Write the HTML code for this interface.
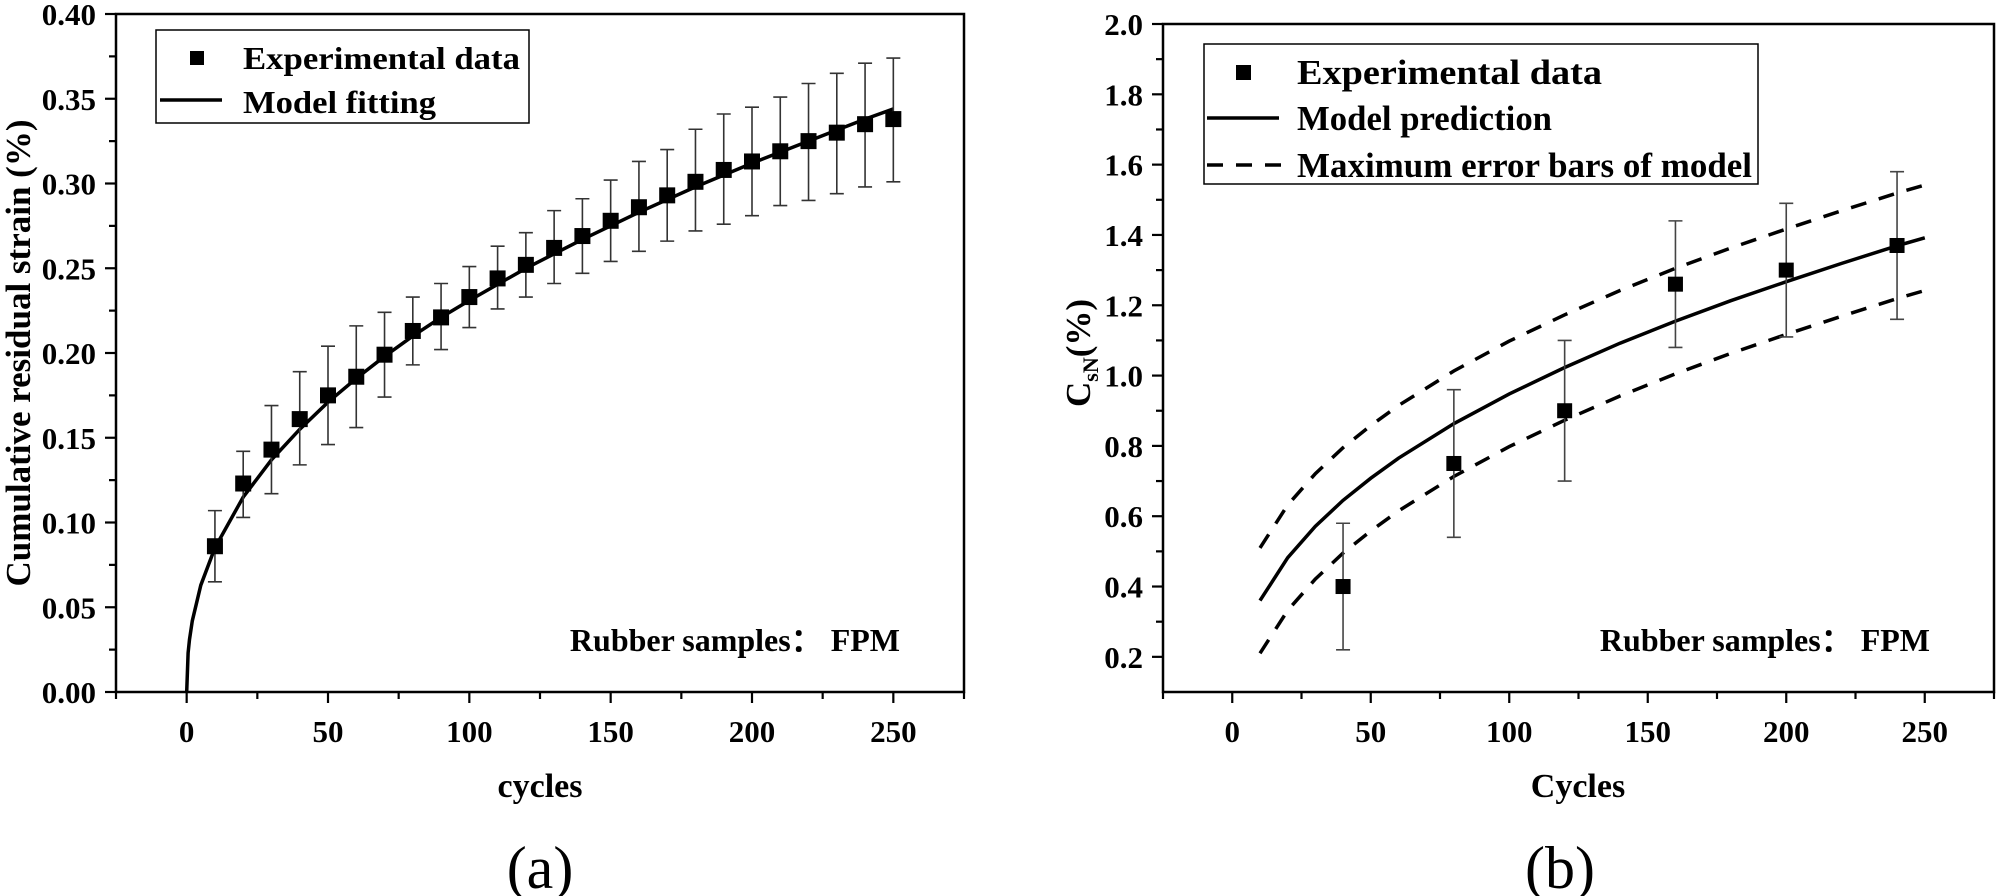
<!DOCTYPE html>
<html><head><meta charset="utf-8"><style>
html,body{margin:0;padding:0;background:#fff;}
svg{display:block;}
text{font-family:"Liberation Serif",serif;fill:#000;}
</style></head><body>
<svg id="fig" width="2000" height="896" viewBox="0 0 2000 896" xmlns="http://www.w3.org/2000/svg"></svg>
<script>
// ---- Chart (a) data ----
const aCycles = [10,20,30,40,50,60,70,80,90,100,110,120,130,140,150,160,170,180,190,200,210,220,230,240,250];
const aStrain = [0.086,0.123,0.143,0.161,0.175,0.186,0.199,0.213,0.221,0.233,0.244,0.252,0.262,0.269,0.278,0.286,0.293,0.301,0.308,0.313,0.319,0.325,0.330,0.335,0.338];
const aUpper = [0.107,0.142,0.169,0.189,0.204,0.216,0.224,0.233,0.241,0.251,0.263,0.271,0.284,0.291,0.302,0.313,0.320,0.332,0.341,0.345,0.351,0.359,0.365,0.371,0.374];
const aLower = [0.065,0.103,0.117,0.134,0.146,0.156,0.174,0.193,0.202,0.215,0.226,0.233,0.241,0.247,0.254,0.260,0.266,0.272,0.276,0.281,0.287,0.290,0.294,0.298,0.301];
const aFitX = [0,0.5,1,2,5,10,20,30,40,50,60,70,80,90,100,120,140,160,180,200,220,240,250];
const aFitY = [0,0.023,0.031,0.042,0.063,0.085,0.115,0.137,0.155,0.171,0.185,0.198,0.210,0.221,0.231,0.250,0.267,0.283,0.298,0.312,0.325,0.338,0.344];
const aXTicks = [0,50,100,150,200,250];
const aYTicks = ["0.00","0.05","0.10","0.15","0.20","0.25","0.30","0.35","0.40"];
// ---- Chart (b) data ----
const bCycles = [40,80,120,160,200,240];
const bCsn = [0.40,0.75,0.90,1.26,1.30,1.37];
const bUpper = [0.58,0.96,1.10,1.44,1.49,1.58];
const bLower = [0.22,0.54,0.70,1.08,1.11,1.16];
const bModelX = [10,20,30,40,50,60,80,100,120,140,160,180,200,220,240,250];
const bModel = [0.36,0.482,0.571,0.645,0.708,0.765,0.863,0.948,1.023,1.092,1.155,1.213,1.267,1.319,1.369,1.392];
const bModelUp = [0.51,0.632,0.721,0.795,0.858,0.915,1.013,1.098,1.173,1.242,1.305,1.363,1.417,1.469,1.519,1.542];
const bModelLo = [0.21,0.332,0.421,0.495,0.558,0.615,0.713,0.798,0.873,0.942,1.005,1.063,1.117,1.169,1.219,1.242];
const bXTicks = [0,50,100,150,200,250];
const bYTicks = ["0.2","0.4","0.6","0.8","1.0","1.2","1.4","1.6","1.8","2.0"];

const NS="http://www.w3.org/2000/svg";
const svg=document.getElementById('fig');
function el(tag,attrs,parent){const e=document.createElementNS(NS,tag);for(const k in attrs)e.setAttribute(k,attrs[k]);(parent||svg).appendChild(e);return e;}

function axisFns(L,R,T,B,xmin,xmax,ymin,ymax){
  return {x:v=>L+(v-xmin)/(xmax-xmin)*(R-L), y:v=>B-(v-ymin)/(ymax-ymin)*(B-T)};
}
function frame(g,L,R,T,B,sx,sy,xTicks,yTicks,yMinorStep,xmin,xmax,ymin,ymax){
  const r=el('rect',{x:L,y:T,width:R-L,height:B-T,fill:'none',stroke:'#000','stroke-width':2.5},g);
  
  
  for(let v=xmin;v<=xmax+0.001;v+=25){
    const major=(v%50===0);
    const t=el('line',{x1:sx(v),x2:sx(v),y1:B,y2:B+(major?11:7),stroke:'#000','stroke-width':2.2},g);
    
    
  }
  xTicks.forEach(v=>{
    const t=el('text',{x:sx(v),y:B+50,'font-size':31,'font-weight':'bold','text-anchor':'middle'},g);
    t.textContent=String(v);
    
    
  });
  yTicks.forEach(s=>{
    const v=parseFloat(s);
    const t=el('line',{x1:L-11,x2:L,y1:sy(v),y2:sy(v),stroke:'#000','stroke-width':2.2},g);
    
    
    const m=v+yMinorStep;
    if(m<ymax){
      const mt=el('line',{x1:L-7,x2:L,y1:sy(m),y2:sy(m),stroke:'#000','stroke-width':2.2},g);
      
      
    }
    const lb=el('text',{x:L-20,y:sy(v)+11,'font-size':31,'font-weight':'bold','text-anchor':'end'},g);
    lb.textContent=s;
    
    
  });
}
function pathFrom(xs,ys,sx,sy){return xs.map((x,i)=>(i?'L':'M')+sx(x).toFixed(1)+','+sy(ys[i]).toFixed(1)).join(' ');}

// ===== Chart A =====
(function(){
  const L=116,R=964,T=14,B=692;
  const f=axisFns(L,R,T,B,-25,275,0,0.40);
  const g=el('g',{});
  
  
  frame(g,L,R,T,B,f.x,f.y,aXTicks,aYTicks,0.025,-25,275,0,0.40);
  const fit=el('path',{d:pathFrom(aFitX,aFitY,f.x,f.y),fill:'none',stroke:'#000','stroke-width':3.5},g);
  
  
  aCycles.forEach((c,i)=>{
    const x=f.x(c);
    const eb=el('path',{d:`M${x},${f.y(aUpper[i])} V${f.y(aLower[i])} M${x-7},${f.y(aUpper[i])} h14 M${x-7},${f.y(aLower[i])} h14`,stroke:'#333','stroke-width':1.6,fill:'none'},g);
    
    
    const p=el('rect',{x:x-8,y:f.y(aStrain[i])-8,width:16,height:16,fill:'#000'},g);
    
    
  });
  const lg=el('g',{},g);
  
  
  el('rect',{x:156,y:30,width:373,height:93,fill:'#fff',stroke:'#000','stroke-width':1.5},lg);
  const s1=el('rect',{x:190,y:51,width:14,height:14,fill:'#000'},lg);
  
  
  const t1=el('text',{x:243,y:69,'font-size':32,'font-weight':'bold',textLength:277,lengthAdjust:'spacingAndGlyphs'},lg);
  t1.textContent='Experimental data';
  
  
  const l2=el('line',{x1:160,x2:222,y1:100,y2:100,stroke:'#000','stroke-width':3.5},lg);
  
  
  const t2=el('text',{x:243,y:113,'font-size':32,'font-weight':'bold',textLength:193,lengthAdjust:'spacingAndGlyphs'},lg);
  t2.textContent='Model fitting';
  
  
  const ann=el('text',{x:900,y:651,'font-size':32,'font-weight':'bold','text-anchor':'end'},g);
  ann.innerHTML='Rubber samples：&#160;FPM';
  
  
  const yt=el('text',{x:0,y:0,'font-size':35,'font-weight':'bold','text-anchor':'middle',transform:'translate(30,353) rotate(-90)'},g);
  yt.textContent='Cumulative residual strain (%)';
  
  
  const xt=el('text',{x:540,y:797,'font-size':34,'font-weight':'bold','text-anchor':'middle'},g);
  xt.textContent='cycles';
  
  
  const cap=el('text',{x:540,y:888,'font-size':60,'text-anchor':'middle'},g);
  cap.textContent='(a)';
  
  
})();

// ===== Chart B =====
(function(){
  const L=1163,R=1994,T=24,B=692;
  const f=axisFns(L,R,T,B,-25,275,0.1,2.0);
  const g=el('g',{});
  
  
  frame(g,L,R,T,B,f.x,f.y,bXTicks,bYTicks,0.1,-25,275,0.1,2.0);
  const up=el('path',{d:pathFrom(bModelX,bModelUp,f.x,f.y),fill:'none',stroke:'#000','stroke-width':3.5,'stroke-dasharray':'16 13'},g);
  
  
  const lo=el('path',{d:pathFrom(bModelX,bModelLo,f.x,f.y),fill:'none',stroke:'#000','stroke-width':3.5,'stroke-dasharray':'16 13'},g);
  
  
  const md=el('path',{d:pathFrom(bModelX,bModel,f.x,f.y),fill:'none',stroke:'#000','stroke-width':3.5},g);
  
  
  bCycles.forEach((c,i)=>{
    const x=f.x(c);
    const eb=el('path',{d:`M${x},${f.y(bUpper[i])} V${f.y(bLower[i])} M${x-7},${f.y(bUpper[i])} h14 M${x-7},${f.y(bLower[i])} h14`,stroke:'#444','stroke-width':1.6,fill:'none'},g);
    
    
    const p=el('rect',{x:x-7.5,y:f.y(bCsn[i])-7.5,width:15,height:15,fill:'#000'},g);
    
    
  });
  const lg=el('g',{},g);
  
  
  el('rect',{x:1204,y:44,width:554,height:140,fill:'#fff',stroke:'#000','stroke-width':1.5},lg);
  const s1=el('rect',{x:1236,y:65,width:15,height:15,fill:'#000'},lg);
  
  
  const t1=el('text',{x:1297,y:84,'font-size':35,'font-weight':'bold',textLength:305,lengthAdjust:'spacingAndGlyphs'},lg);
  t1.textContent='Experimental data';
  
  
  const l2=el('line',{x1:1207,x2:1279,y1:118,y2:118,stroke:'#000','stroke-width':3.5},lg);
  
  
  const t2=el('text',{x:1297,y:130,'font-size':35,'font-weight':'bold',textLength:255,lengthAdjust:'spacingAndGlyphs'},lg);
  t2.textContent='Model prediction';
  
  
  const l3=el('line',{x1:1207,x2:1282,y1:165,y2:165,stroke:'#000','stroke-width':3.5,'stroke-dasharray':'16 13'},lg);
  
  
  const t3=el('text',{x:1297,y:177,'font-size':35,'font-weight':'bold',textLength:455,lengthAdjust:'spacingAndGlyphs'},lg);
  t3.textContent='Maximum error bars of model';
  
  
  const ann=el('text',{x:1930,y:651,'font-size':32,'font-weight':'bold','text-anchor':'end'},g);
  ann.innerHTML='Rubber samples：&#160;FPM';
  
  
  const yt=el('text',{x:0,y:0,'font-size':35,'font-weight':'bold','text-anchor':'middle',transform:'translate(1090,353) rotate(-90)'},g);
  yt.innerHTML='C<tspan font-size="22" dy="8">sN</tspan><tspan dy="-8">(%)</tspan>';
  
  
  const xt=el('text',{x:1578,y:797,'font-size':34,'font-weight':'bold','text-anchor':'middle'},g);
  xt.textContent='Cycles';
  
  
  const cap=el('text',{x:1560,y:888,'font-size':60,'text-anchor':'middle'},g);
  cap.textContent='(b)';
  
  
})();
</script>
</body></html>
